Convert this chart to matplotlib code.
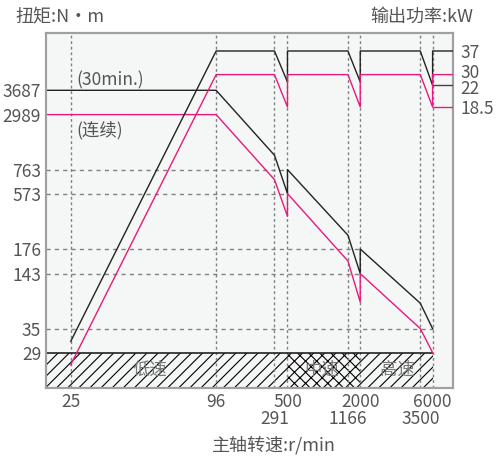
import numpy as np
import matplotlib
matplotlib.use("Agg")
import matplotlib.pyplot as plt
from matplotlib.transforms import ScaledTranslation

plt.rcParams['font.family'] = ['Noto Sans CJK SC', 'DejaVu Sans']
plt.rcParams['hatch.linewidth'] = 0.8

# ---- data ----
SPEED_MIN = 20      # left edge of the axis, r/min
SPEED_MAX = 8000    # right edge of the axis, r/min

speed_ticks_top = [25, 96, 500, 2000, 6000]
speed_ticks_low = [291, 1166, 3500]
torque_ticks = [3687, 2989, 763, 573, 176, 143, 35, 29]
power_ticks = [37, 30, 22, 18.5]

# torque curves (N·m)
torque_30_speed = [SPEED_MIN, 96, 291, 500, 500, 1166, 2000, 2000, 3500, 6000]
torque_30_value = [3687, 3687, 1090, 573, 763, 236, 143, 176, 67, 35]
torque_s1_speed = [SPEED_MIN, 96, 291, 500, 500, 1166, 2000, 2000, 3500, 6000]
torque_s1_value = [2989, 2989, 677, 353, 573, 159, 69, 143, 35, 29]

# power curves (kW)
power_30_speed = [25, 96, 291, 500, 500, 1166, 2000, 2000, 3500, 6000, 6000, SPEED_MAX]
power_30_value = [6.5, 37, 37, 24.5, 37, 37, 24.5, 37, 37, 22, 37, 37]
power_30_tail = [22, 22]
power_s1_speed = [25, 96, 291, 500, 500, 1166, 2000, 2000, 3500, 6000, 6000, SPEED_MAX]
power_s1_value = [5.3, 30, 30, 18.5, 30, 30, 18.5, 30, 30, 18.5, 30, 30]
power_s1_tail = [18.5, 18.5]

# dashed reference levels and the speed where each one ends
grid_levels = [763, 573, 176, 143, 35]
grid_ends = [500, 500, 2000, 2000, 6000]

# speed ranges of the gearbox
range_names = ['低速', '中速', '高速']
range_bounds = [SPEED_MIN, 500, 2000, 6000]

# ---- schematic scales (knots of the drawing, not data) ----
x_knot_v = np.log([20, 25, 96, 291, 500, 1166, 2000, 3500, 6000, 8000])
x_knot_p = [0, 24.7, 170, 228.3, 241.3, 301.7, 314, 374, 386.3, 407]
t_knot_v = np.log([10, 29, 35, 143, 176, 573, 763, 2989, 3687, 8000])
t_knot_p = [0, 35.7, 59.7, 114.7, 139.3, 194.7, 218.7, 273.7, 298, 355]
p_knot_v = [4.1, 18.5, 22, 30, 37, 45]
p_knot_p = [0, 281.3, 303, 313.7, 337.3, 355]


def xf(v):
    return np.interp(np.log(np.clip(v, 1e-6, None)), x_knot_v, x_knot_p)


def xi(p):
    return np.exp(np.interp(p, x_knot_p, x_knot_v))


def tf(v):
    return np.interp(np.log(np.clip(v, 1e-6, None)), t_knot_v, t_knot_p)


def ti(p):
    return np.exp(np.interp(p, t_knot_p, t_knot_v))


def pf(v):
    return np.interp(v, p_knot_v, p_knot_p)


def pi(p):
    return np.interp(p, p_knot_p, p_knot_v)


BLACK = '#222222'
PINK = '#e8197d'
GRID = '#808080'
TXT = '#555555'
FS = 12.5

fig = plt.figure(figsize=(5.01, 4.58), dpi=100)
ax = fig.add_axes([0.0918, 0.1522, 0.8130, 0.7751])
ax.set_facecolor('#f5f7f6')
ax.set_xscale('function', functions=(xf, xi))
ax.set_yscale('function', functions=(tf, ti))
ax.set_xlim(SPEED_MIN, SPEED_MAX)
ax.set_ylim(10, 8000)

ax2 = ax.twinx()
ax2.set_yscale('function', functions=(pf, pi))
ax2.set_ylim(4.1, 45)

# hatched speed ranges
hatches = ['///', 'xxx', '///']
for i in range(3):
    ax.fill_between([range_bounds[i], range_bounds[i + 1]], 10, 29,
                    hatch=hatches[i], facecolor='none', edgecolor='black',
                    linewidth=0, zorder=1)
ax.hlines(29, SPEED_MIN, 6000, color=BLACK, lw=1.2, zorder=3)

# vertical dotted lines
for s in speed_ticks_top + speed_ticks_low:
    ax.axvline(s, color=GRID, lw=1, linestyle=(0, (2, 2)), zorder=2)

# horizontal dashed lines
for lv, end in zip(grid_levels, grid_ends):
    ax.hlines(lv, SPEED_MIN, end, color=GRID, lw=1, linestyle=(0, (3, 3)), zorder=2)

# curves
ax.plot(torque_30_speed, torque_30_value, color=BLACK, lw=1.0, zorder=4)
ax.plot(torque_s1_speed, torque_s1_value, color=PINK, lw=1.0, zorder=4)
ax2.plot(power_30_speed, power_30_value, color=BLACK, lw=1.0, zorder=4)
ax2.plot([6000, SPEED_MAX], power_30_tail, color='#444444', lw=1.0, zorder=4)
ax2.plot(power_s1_speed, power_s1_value, color=PINK, lw=1.0, zorder=4)
ax2.plot([6000, SPEED_MAX], power_s1_tail, color=PINK, lw=1.0, zorder=4)

# ticks
ax.set_xticks(speed_ticks_top, [str(s) for s in speed_ticks_top])
ax.set_xticks(speed_ticks_low, [str(s) for s in speed_ticks_low], minor=True)
ax.tick_params(axis='x', which='major', length=0, pad=3.5, labelsize=FS, labelcolor=TXT)
ax.tick_params(axis='x', which='minor', length=0, pad=15.5, labelsize=FS, labelcolor=TXT)
ax.set_yticks(torque_ticks, [str(t) for t in torque_ticks])
ax.set_yticks([], minor=True)
ax.tick_params(axis='y', length=0, pad=3.5, labelsize=FS, labelcolor=TXT)
ax2.set_yticks(power_ticks, [f'{p:g}' for p in power_ticks])
ax2.set_yticks([], minor=True)
ax2.tick_params(axis='y', length=0, pad=5, labelsize=FS, labelcolor=TXT)

# the 30 and 22 labels sit very close; spread them a little
shifts = {'30': 2.5, '22': -1.5}
for lab in ax2.get_yticklabels():
    dy = shifts.get(lab.get_text(), 0)
    if dy:
        lab.set_transform(lab.get_transform() + ScaledTranslation(0, dy / 72, fig.dpi_scale_trans))

for a in (ax, ax2):
    for sp in a.spines.values():
        sp.set_color('#a0a0a0')
        sp.set_linewidth(1.5)

# labels inside the plot
ax.text(0.074, 0.866, '(30min.)', transform=ax.transAxes, fontsize=FS,
        color=TXT, va='center', ha='left')
ax.text(0.074, 0.728, '(连续)', transform=ax.transAxes, fontsize=FS,
        color=TXT, va='center', ha='left')
for name, xc in zip(range_names, [0.255, 0.678, 0.862]):
    ax.text(xc, 0.052, name, transform=ax.transAxes, fontsize=FS,
            color='#777777', va='center', ha='center', zorder=5)

fig.text(0.030, 0.961, '扭矩:N·m', fontsize=13, color=TXT, va='center', ha='left')
fig.text(0.944, 0.963, '输出功率:kW', fontsize=13, color=TXT, va='center', ha='right')
fig.text(0.547, 0.028, '主轴转速:r/min', fontsize=13, color=TXT, va='center', ha='center')

fig.savefig('out.png', dpi=100)
